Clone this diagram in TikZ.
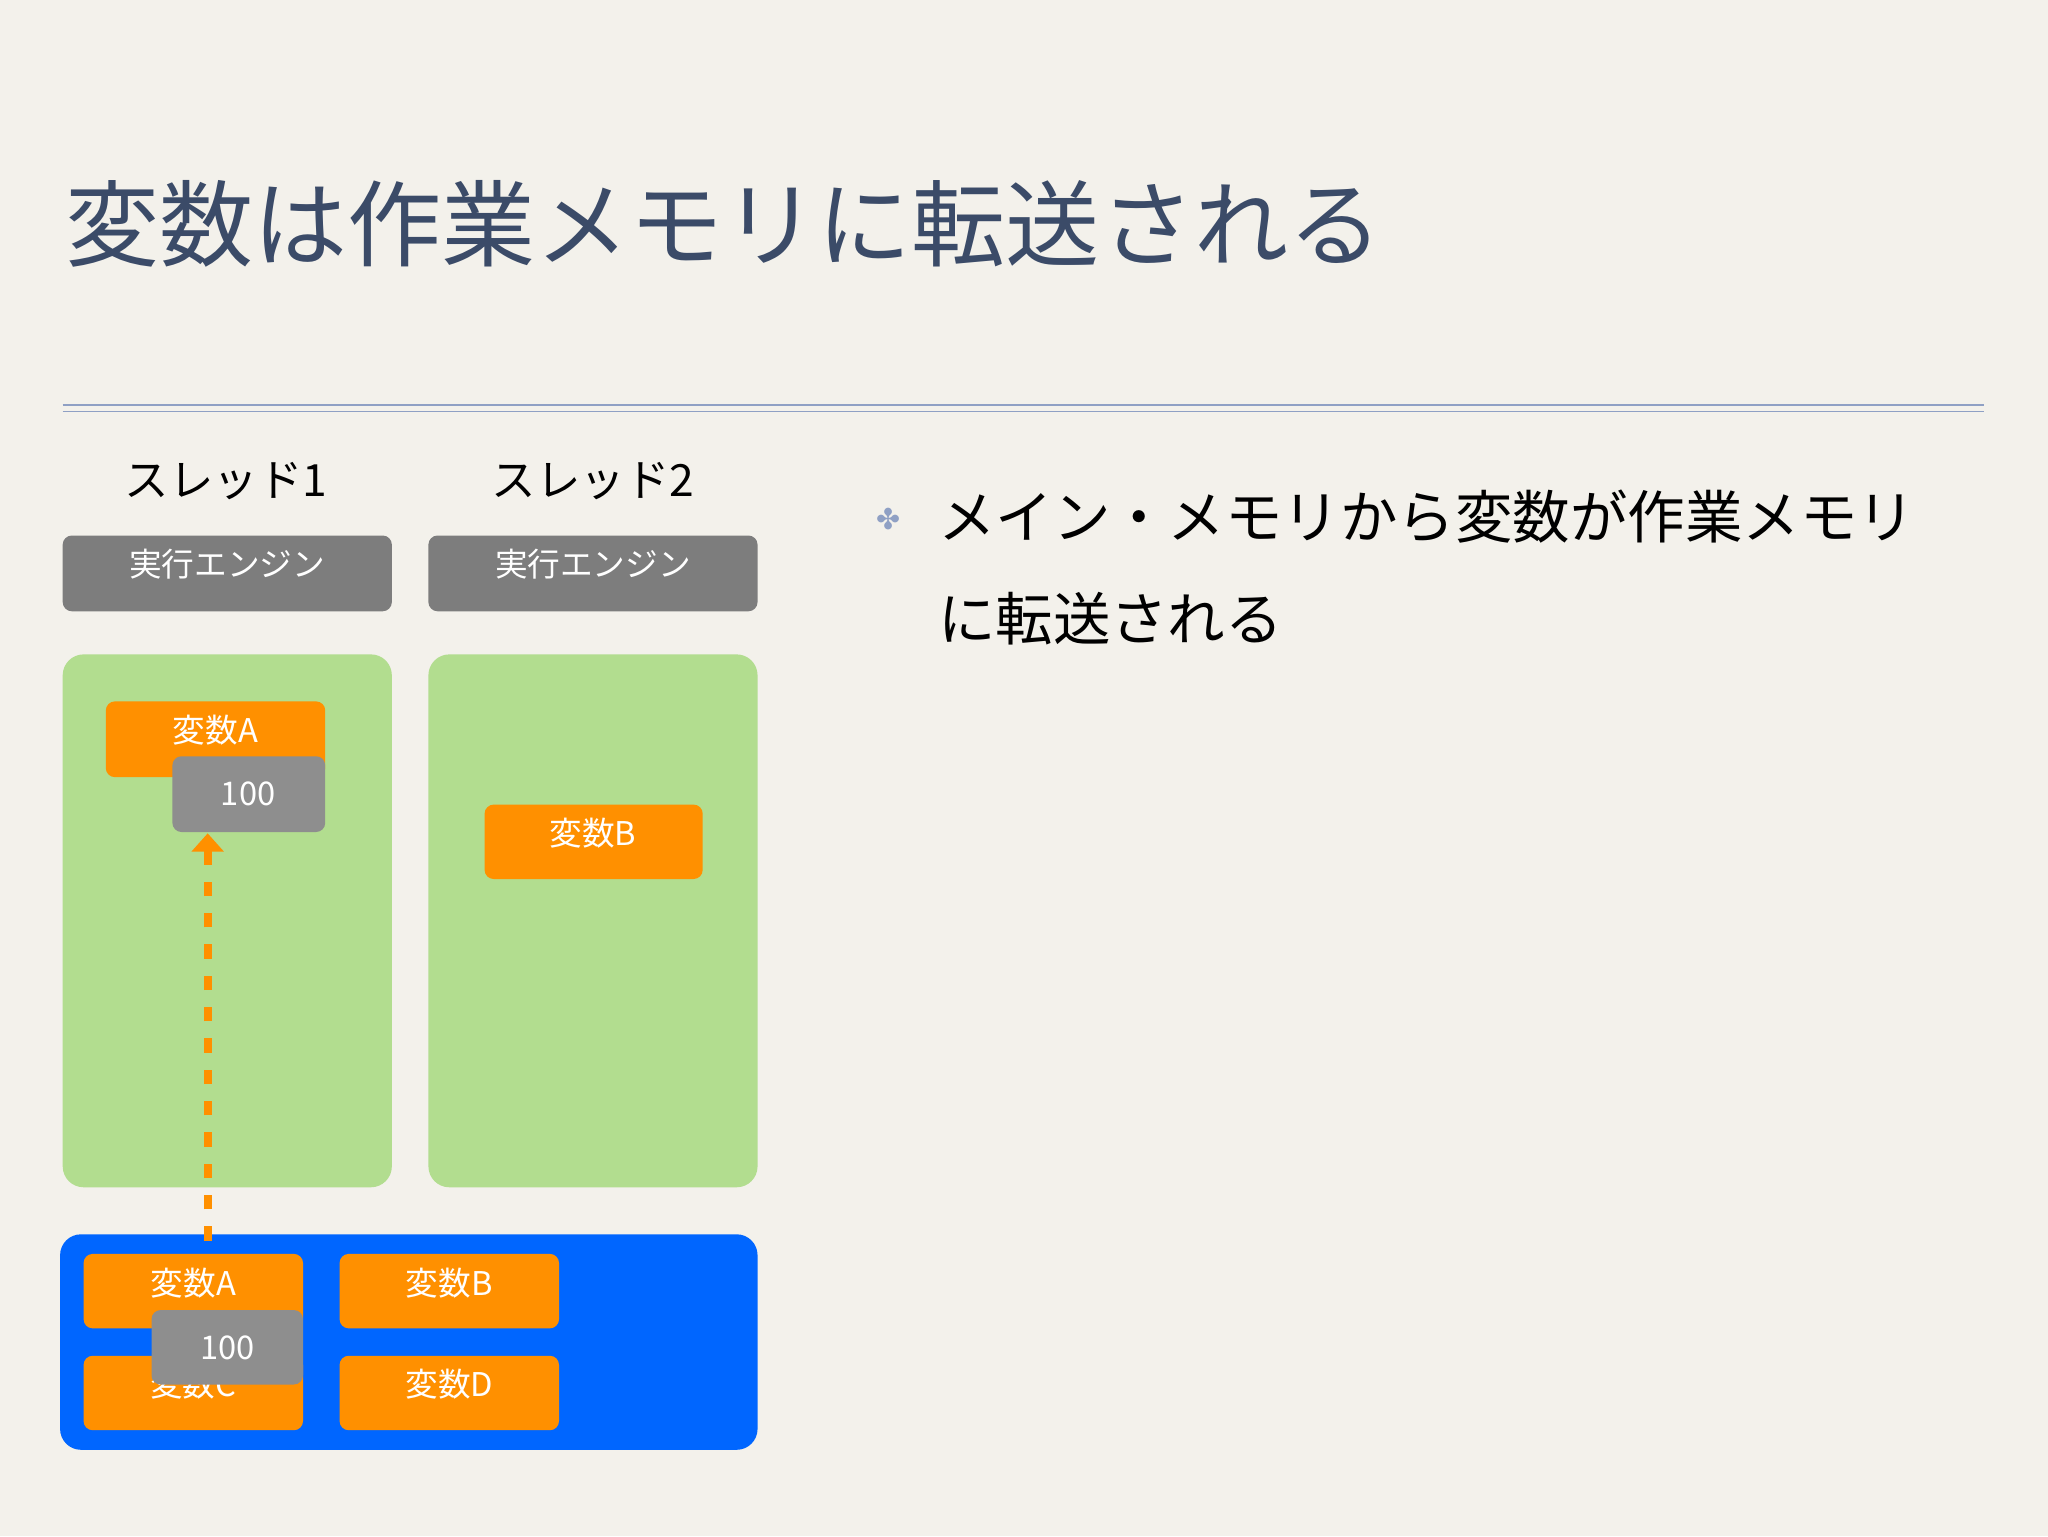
\documentclass[tikz,border=0pt]{standalone}
\usepackage{fontspec}
\setmainfont{Noto Sans CJK JP}
\newfontfamily\symf{DejaVu Sans}
\usetikzlibrary{arrows.meta}
\definecolor{bg}{HTML}{F3F1EB}
\definecolor{ttl}{HTML}{3B4B68}
\definecolor{grn}{HTML}{B2DD8F}
\definecolor{org}{HTML}{FF9000}
\definecolor{gry}{HTML}{7D7D7D}
\definecolor{gry2}{HTML}{8E8E8E}
\definecolor{blu}{HTML}{0066FF}
\definecolor{rule}{HTML}{8FA0C4}
\tikzset{
 box/.style={rounded corners=7pt,draw=none},
 lbl/.style={text=white,font=\fontsize{25}{27}\selectfont},
}
\begin{document}
\begin{tikzpicture}[x=1pt,y=-1pt]
\fill[bg] (0,0) rectangle (1568,1176);
\node[anchor=base west,text=ttl,font=\fontsize{72}{74}\selectfont,inner sep=0] (title) at (50,199) {変数は作業メモリに転送される};
\draw[rule,line width=1.2pt] (48,310) -- (1519,310) (48,315) -- (1519,315);
\node[font=\fontsize{34}{36}\selectfont] (t1) at (173,368) {スレッド1};
\node[font=\fontsize{34}{36}\selectfont] (t2) at (454,368) {スレッド2};
\foreach \x/\n in {48/1,328/2}{
 \fill[box,gry] (\x,410) rectangle ++(252,58);
 \node[lbl] (e\n) at (\x+126,432) {実行エンジン};
 \fill[box,grn,rounded corners=16pt] (\x,501) rectangle ++(252,408);
}
\fill[box,org] (81,537) rectangle (249,595);
\node[lbl] (a1) at (165,559) {変数A};
\fill[box,gry2] (132,579) rectangle (249,637);
\node[lbl] (v1) at (190,608) {100};
\fill[box,org] (371,616) rectangle (538,673);
\node[lbl] (b1) at (454,638) {変数B};
\fill[blu,rounded corners=16pt] (46,945) rectangle (580,1110);
\fill[box,org] (64,960) rectangle (232,1017);
\node[lbl] (a2) at (148,982) {変数A};
\fill[box,org] (260,960) rectangle (428,1017);
\node[lbl] (b2) at (344,982) {変数B};
\fill[box,org] (64,1038) rectangle (232,1095);
\node[lbl] (c2) at (148,1060) {変数C};
\fill[box,org] (260,1038) rectangle (428,1095);
\node[lbl] (d2) at (344,1060) {変数D};
\fill[box,gry2] (116,1003) rectangle (232,1060);
\node[lbl] (v2) at (174,1032) {100};
\coordinate (s) at (159,950);
\coordinate (t) at (159,638);
\draw[org,line width=6pt,dash pattern=on 11pt off 13pt,-{Triangle[length=14pt,width=24pt]}] (s) -- (t);
\node[text=rule,font=\symf\fontsize{22}{24}\selectfont] (bul) at (680,397) {✤};
\node[anchor=base west,font=\fontsize{44}{46}\selectfont,inner sep=0] (l1) at (718,412) {メイン・メモリから変数が作業メモリ};
\node[anchor=base west,font=\fontsize{44}{46}\selectfont,inner sep=0] (l2) at (718,490) {に転送される};
\end{tikzpicture}
\end{document}
